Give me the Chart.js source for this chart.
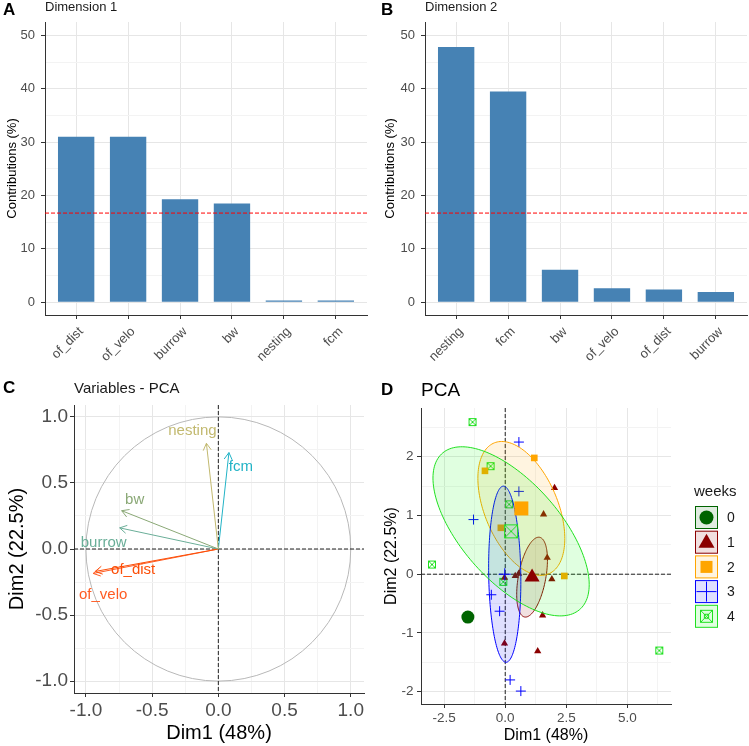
<!DOCTYPE html>
<html>
<head>
<meta charset="utf-8">
<script src="https://cdn.jsdelivr.net/npm/chart.js"></script>
<style>
  body { margin: 0; background: #fff; overflow: hidden; }
  #wrap { position: relative; width: 749px; height: 746px; font-family: "Liberation Sans", Arial, sans-serif; }
  canvas { position: absolute; }
  .tag { position: absolute; font-weight: bold; font-size: 17px; line-height: 20px; color: #000; }
  .ttl { position: absolute; color: #1a1a1a; white-space: nowrap; }
</style>
</head>
<body>
<div id="wrap">
  <canvas id="chartA" width="375" height="370" style="left:0;top:0"></canvas>
  <canvas id="chartB" width="374" height="370" style="left:375px;top:0"></canvas>
  <canvas id="chartC" width="375" height="376" style="left:0;top:370px"></canvas>
  <canvas id="chartD" width="374" height="376" style="left:375px;top:370px"></canvas>

  <div class="tag" style="left:3px;top:0">A</div>
  <div class="ttl" style="left:45px;top:-1px;font-size:13px;line-height:16px">Dimension 1</div>
  <div class="tag" style="left:381px;top:0">B</div>
  <div class="ttl" style="left:425px;top:-1px;font-size:13px;line-height:16px">Dimension 2</div>
  <div class="tag" style="left:3px;top:378px">C</div>
  <div class="ttl" style="left:74px;top:379px;font-size:15px;line-height:18px">Variables - PCA</div>
  <div class="tag" style="left:381px;top:380px">D</div>
  <div class="ttl" style="left:421px;top:379px;font-size:19px;line-height:22px;color:#000">PCA</div>
</div>
<script>
// ---- data ----
const dim1Vars = ['of_dist', 'of_velo', 'burrow', 'bw', 'nesting', 'fcm'];
const dim1Contrib = [31.0, 31.0, 19.3, 18.5, 0.3, 0.3];
const dim2Vars = ['nesting', 'fcm', 'bw', 'of_velo', 'of_dist', 'burrow'];
const dim2Contrib = [47.8, 39.5, 6.1, 2.6, 2.4, 1.9];
const contribRef = 16.7;            // expected average contribution (100 / 6)
const contribTicks = [0, 10, 20, 30, 40, 50];

const varNames = ['nesting', 'fcm', 'bw', 'burrow', 'of_dist', 'of_velo'];
const varDim1 = [-0.09, 0.08, -0.73, -0.745, -0.93, -0.945];
const varDim2 = [0.80, 0.73, 0.29, 0.16, -0.17, -0.185];
const varTicks = [-1, -0.5, 0, 0.5, 1];

const weeks = ['0', '1', '2', '3', '4'];
const week0X = [-1.53];
const week0Y = [-0.73];
const week1X = [2.02, 1.57, 1.72, 1.91, 1.53, 1.33, -0.03, -0.03, 0.41, 0.55];
const week1Y = [1.47, 1.02, 0.28, -0.085, -0.70, -1.31, -1.18, -0.06, -0.03, 0.01];
const week2X = [1.19, -0.83, -0.18, 2.42];
const week2Y = [1.98, 1.76, 0.79, -0.03];
const week3X = [0.56, 0.56, -1.30, -0.57, -0.23, 0.20, 0.64];
const week3Y = [2.25, 1.41, 0.93, -0.35, -0.63, -1.80, -1.99];
const week4X = [-1.34, -0.60, 0.16, -3.00, -0.08, 6.31];
const week4Y = [2.59, 1.84, 1.19, 0.165, -0.13, -1.30];
const meanX = [-1.53, 1.10, 0.66, -0.02, 0.24];
const meanY = [-0.73, -0.05, 1.12, 0.00, 0.73];
// concentration ellipses: half extent along x / y and correlation
const ellWeeks = [1, 2, 3, 4];
const ellHalfX = [0.63, 1.78, 0.66, 3.20];
const ellHalfY = [0.68, 1.14, 1.50, 1.44];
const ellCorr = [0.43, -0.45, -0.08, -0.63];
const indXTicks = [-2.5, 0, 2.5, 5];
const indYTicks = [-2, -1, 0, 1, 2];

// ---- styling ----
const FONT = '"Liberation Sans", Arial, sans-serif';
const GRID_MAJOR = '#e6e6e6', GRID_MINOR = '#f3f3f3';
const AXIS = '#333333', TICK_TXT = '#4d4d4d';
const BAR = '#4682B4';
const varColors = ['#c2b96f', '#22b3c6', '#8aa876', '#6aae98', '#fc4e07', '#ff5b22'];
const labelNudge = { nesting: [-14, -12], fcm: [12, 14], bw: [13, -11], burrow: [-16, 15], of_dist: [38, -2], of_velo: [10, 21] };
const weekColors = ['#006400', '#8B0000', '#FFA500', '#0000FF', '#1fe01f'];
const weekFills = ['rgba(0,100,0,0.12)', 'rgba(139,0,0,0.12)', 'rgba(255,165,0,0.12)', 'rgba(0,0,255,0.12)', 'rgba(0,255,0,0.12)'];

Chart.defaults.font.family = FONT;
Chart.defaults.animation = false;
Chart.defaults.responsive = false;
Chart.defaults.plugins.legend.display = false;
Chart.defaults.plugins.tooltip.enabled = false;

// major ticks plus the half-way minor ones inside the range
function withMinor(major, min, max) {
  const step = major[1] - major[0];
  const out = [];
  for (let v = major[0] - step; v <= major[major.length - 1] + step + 1e-9; v += step / 2) {
    if (v >= min - 1e-9 && v <= max + 1e-9) out.push(Math.round(v * 1000) / 1000);
  }
  return out;
}

function zeroPad(s) {
  s.paddingLeft = 0; s.paddingRight = 0; s.paddingTop = 0; s.paddingBottom = 0;
}

function gridAxis(o) {
  const all = withMinor(o.major, o.min, o.max);
  const isMajor = v => o.major.some(m => Math.abs(m - v) < 1e-9);
  return {
    type: 'linear', min: o.min, max: o.max, offset: false,
    afterBuildTicks: s => { s.ticks = all.map(v => ({ value: v })); },
    afterFit: s => { s[o.fit] = o.size; zeroPad(s); },
    ticks: {
      autoSkip: false, minRotation: 0, maxRotation: 0, padding: o.pad, color: TICK_TXT,
      font: { size: o.fontSize },
      callback: v => isMajor(v) ? o.fmt(v) : ''
    },
    grid: {
      offset: false, lineWidth: 1, tickLength: 4,
      color: c => (c.tick && isMajor(c.tick.value)) ? GRID_MAJOR : GRID_MINOR,
      tickColor: c => (c.tick && isMajor(c.tick.value)) ? AXIS : 'rgba(0,0,0,0)'
    },
    border: { display: true, color: AXIS, width: 1 },
    title: o.title
      ? { display: true, text: o.title, color: '#000', font: { size: o.titleSize }, padding: o.titlePad }
      : { display: false }
  };
}

function clipArea(chart) {
  const a = chart.chartArea;
  chart.ctx.beginPath();
  chart.ctx.rect(a.left, a.top, a.right - a.left, a.bottom - a.top);
  chart.ctx.clip();
}

// dashed red reference line on the contribution bars
const refLinePlugin = {
  id: 'refLine',
  afterDatasetsDraw(chart) {
    const ctx = chart.ctx, a = chart.chartArea;
    const y = chart.scales.y.getPixelForValue(contribRef);
    ctx.save();
    ctx.strokeStyle = '#ff0000';
    ctx.lineWidth = 1;
    ctx.setLineDash([4, 2]);
    ctx.beginPath();
    ctx.moveTo(a.left, y);
    ctx.lineTo(a.right, y);
    ctx.stroke();
    ctx.restore();
  }
};

function contribChart(id, cats, vals, padLeft, yWidth, padRight) {
  const yAxis = gridAxis({ min: -2.4, max: 52.5, major: contribTicks, fit: 'width', size: yWidth, pad: 6, fontSize: 13,
    fmt: v => String(v), title: 'Contributions (%)', titleSize: 13, titlePad: { top: 5, bottom: 0 } });
  return new Chart(document.getElementById(id), {
    type: 'bar',
    data: {
      datasets: [{
        data: cats.map((c, i) => ({ x: i, y: vals[i] })),
        backgroundColor: BAR,
        barPercentage: 0.7,
        categoryPercentage: 1
      }]
    },
    options: {
      layout: { padding: { left: padLeft, right: padRight, top: 22, bottom: 0 } },
      scales: {
        x: {
          type: 'linear', offset: false, min: -0.6, max: cats.length - 0.4,
          afterBuildTicks: s => { s.ticks = cats.map((c, i) => ({ value: i })); },
          afterFit: s => { s.height = 55; zeroPad(s); },
          ticks: {
            autoSkip: false, minRotation: 45, maxRotation: 45, padding: 5, labelOffset: 5, color: TICK_TXT,
            font: { size: 13 }, callback: v => cats[v]
          },
          grid: { offset: false, color: GRID_MAJOR, tickColor: AXIS, tickLength: 4, lineWidth: 1 },
          border: { display: true, color: AXIS, width: 1 }
        },
        y: yAxis
      }
    },
    plugins: [refLinePlugin]
  });
}

contribChart('chartA', dim1Vars, dim1Contrib, 0, 45, 8);
contribChart('chartB', dim2Vars, dim2Contrib, 3, 47, 2);

// ---- C: variables correlation circle ----
const circlePlugin = {
  id: 'corCircle',
  beforeDatasetsDraw(chart) {
    const ctx = chart.ctx, xs = chart.scales.x, ys = chart.scales.y, a = chart.chartArea;
    const cx = xs.getPixelForValue(0), cy = ys.getPixelForValue(0);
    ctx.save();
    clipArea(chart);
    ctx.strokeStyle = '#b8b8b8';
    ctx.lineWidth = 1;
    ctx.beginPath();
    ctx.ellipse(cx, cy, xs.getPixelForValue(1) - cx, cy - ys.getPixelForValue(1), 0, 0, Math.PI * 2);
    ctx.stroke();
    ctx.strokeStyle = '#222';
    ctx.setLineDash([4, 2]);
    ctx.beginPath();
    ctx.moveTo(a.left, cy); ctx.lineTo(a.right, cy);
    ctx.moveTo(cx, a.top); ctx.lineTo(cx, a.bottom);
    ctx.stroke();
    ctx.restore();
  }
};

const arrowPlugin = {
  id: 'arrows',
  afterDatasetsDraw(chart) {
    const ctx = chart.ctx;
    ctx.save();
    chart.data.datasets.forEach((ds, i) => {
      const pts = chart.getDatasetMeta(i).data;
      const a = pts[0], b = pts[1];
      const ang = Math.atan2(b.y - a.y, b.x - a.x);
      const len = 8, spread = Math.PI / 6;
      ctx.strokeStyle = varColors[i];
      ctx.lineWidth = 1;
      ctx.beginPath();
      ctx.moveTo(b.x - len * Math.cos(ang - spread), b.y - len * Math.sin(ang - spread));
      ctx.lineTo(b.x, b.y);
      ctx.lineTo(b.x - len * Math.cos(ang + spread), b.y - len * Math.sin(ang + spread));
      ctx.stroke();
      const off = labelNudge[ds.label];
      ctx.fillStyle = varColors[i];
      ctx.font = '15px ' + FONT;
      ctx.textAlign = 'center';
      ctx.textBaseline = 'middle';
      ctx.fillText(ds.label, b.x + off[0], b.y + off[1]);
    });
    ctx.restore();
  }
};

new Chart(document.getElementById('chartC'), {
  type: 'scatter',
  data: {
    datasets: varNames.map((n, i) => ({
      label: n,
      data: [{ x: 0, y: 0 }, { x: varDim1[i], y: varDim2[i] }],
      showLine: true,
      borderColor: varColors[i],
      borderWidth: 1,
      pointRadius: 0
    }))
  },
  options: {
    layout: { padding: { left: 0, right: 11, top: 35, bottom: 0 } },
    scales: {
      x: gridAxis({ min: -1.09, max: 1.10, major: varTicks, fit: 'height', size: 53, pad: 2, fontSize: 19,
        fmt: v => v.toFixed(1), title: 'Dim1 (48%)', titleSize: 20, titlePad: { top: 0, bottom: 1 } }),
      y: gridAxis({ min: -1.09, max: 1.09, major: varTicks, fit: 'width', size: 74, pad: 2, fontSize: 19,
        fmt: v => v.toFixed(1), title: 'Dim2 (22.5%)', titleSize: 20, titlePad: { top: 5, bottom: 0 } })
    }
  },
  plugins: [circlePlugin, arrowPlugin]
});

// ---- D: individuals by week ----
function makeBoxX(size, color, inner) {
  const c = document.createElement('canvas');
  c.width = size + 2; c.height = size + 2;
  const g = c.getContext('2d');
  g.strokeStyle = color;
  g.lineWidth = 1;
  g.strokeRect(1.5, 1.5, size - 1, size - 1);
  if (inner) {
    const q = size * 0.3;
    g.strokeRect(1.5 + q, 1.5 + q, size - 1 - 2 * q, size - 1 - 2 * q);
  }
  g.beginPath();
  g.moveTo(1.5, 1.5); g.lineTo(size + 0.5, size + 0.5);
  g.moveTo(size + 0.5, 1.5); g.lineTo(1.5, size + 0.5);
  g.stroke();
  return c;
}
const boxSmall = makeBoxX(8, weekColors[4], false);
const boxBig = makeBoxX(14, weekColors[4], false);
const boxKey = makeBoxX(13, weekColors[4], true);

const groupX = [week0X, week1X, week2X, week3X, week4X];
const groupY = [week0Y, week1Y, week2Y, week3Y, week4Y];
const shapes = ['circle', 'triangle', 'rect', 'cross', boxSmall];
const meanShapes = ['circle', 'triangle', 'rect', 'cross', boxBig];
const smallR = [3.5, 4.2, 4.7, 5, 4];
const meanR = [6.5, 8.7, 9.9, 6, 7];

const pointSets = weeks.map((w, g) => ({
  label: 'week ' + w,
  data: groupX[g].map((x, i) => ({ x: x, y: groupY[g][i] })),
  pointStyle: shapes[g],
  pointRadius: smallR[g],
  pointBackgroundColor: weekColors[g],
  pointBorderColor: weekColors[g],
  pointBorderWidth: g === 3 ? 1 : 0,
  order: 1
}));
const meanSets = weeks.map((w, g) => ({
  label: 'mean ' + w,
  isMean: true,
  data: [{ x: meanX[g], y: meanY[g] }],
  pointStyle: meanShapes[g],
  pointRadius: meanR[g],
  pointBackgroundColor: weekColors[g],
  pointBorderColor: weekColors[g],
  pointBorderWidth: g === 3 ? 1 : 0,
  order: 0
}));

function drawEllipses(chart) {
  const ctx = chart.ctx, xs = chart.scales.x, ys = chart.scales.y;
  ctx.save();
  clipArea(chart);
  ellWeeks.forEach((wk, k) => {
    const s = Math.sqrt(1 - ellCorr[k] * ellCorr[k]);
    ctx.beginPath();
    for (let j = 0; j <= 160; j++) {
      const t = j / 160 * Math.PI * 2;
      const dx = meanX[wk] + ellHalfX[k] * Math.cos(t);
      const dy = meanY[wk] + ellHalfY[k] * (ellCorr[k] * Math.cos(t) + s * Math.sin(t));
      const px = xs.getPixelForValue(dx), py = ys.getPixelForValue(dy);
      if (j === 0) ctx.moveTo(px, py); else ctx.lineTo(px, py);
    }
    ctx.closePath();
    ctx.fillStyle = weekFills[wk];
    ctx.fill();
    ctx.strokeStyle = weekColors[wk];
    ctx.lineWidth = 1;
    ctx.stroke();
  });
  ctx.restore();
}

const indPlugin = {
  id: 'indExtras',
  beforeDatasetsDraw(chart) {
    chart.$ellDone = false;
    const ctx = chart.ctx, a = chart.chartArea;
    const cx = chart.scales.x.getPixelForValue(0), cy = chart.scales.y.getPixelForValue(0);
    ctx.save();
    ctx.strokeStyle = '#222';
    ctx.lineWidth = 1;
    ctx.setLineDash([4, 2]);
    ctx.beginPath();
    ctx.moveTo(a.left, cy); ctx.lineTo(a.right, cy);
    ctx.moveTo(cx, a.top); ctx.lineTo(cx, a.bottom);
    ctx.stroke();
    ctx.restore();
  },
  beforeDatasetDraw(chart, args) {
    if (!chart.$ellDone && chart.data.datasets[args.index].isMean) {
      drawEllipses(chart);
      chart.$ellDone = true;
    }
  },
  afterDraw(chart) {
    const ctx = chart.ctx;
    ctx.save();
    ctx.textBaseline = 'middle';
    ctx.textAlign = 'left';
    ctx.fillStyle = '#1a1a1a';
    ctx.font = '15px ' + FONT;
    ctx.fillText('weeks', 319, 122);
    weeks.forEach((w, g) => {
      const left = 320, top = 136 + g * 24.7, size = 23;
      const cx = left + size / 2, cy = top + size / 2;
      ctx.fillStyle = weekFills[g];
      ctx.fillRect(left, top, size, size);
      ctx.strokeStyle = weekColors[g];
      ctx.lineWidth = 1;
      ctx.strokeRect(left + 0.5, top + 0.5, size - 1, size - 1);
      ctx.fillStyle = weekColors[g];
      ctx.beginPath();
      if (g === 0) {
        ctx.arc(cx, cy, 7, 0, Math.PI * 2);
        ctx.fill();
      } else if (g === 1) {
        ctx.moveTo(cx, cy - 8.5);
        ctx.lineTo(cx + 8, cy + 5.5);
        ctx.lineTo(cx - 8, cy + 5.5);
        ctx.closePath();
        ctx.fill();
      } else if (g === 2) {
        ctx.fillRect(cx - 6, cy - 6, 12, 12);
      } else if (g === 3) {
        ctx.moveTo(cx - 10, cy); ctx.lineTo(cx + 10, cy);
        ctx.moveTo(cx, cy - 10); ctx.lineTo(cx, cy + 10);
        ctx.stroke();
      } else {
        ctx.drawImage(boxKey, cx - boxKey.width / 2, cy - boxKey.height / 2);
      }
      ctx.fillStyle = '#1a1a1a';
      ctx.font = '14px ' + FONT;
      ctx.fillText(w, 352, cy + 1);
    });
    ctx.restore();
  }
};

new Chart(document.getElementById('chartD'), {
  type: 'scatter',
  data: { datasets: pointSets.concat(meanSets) },
  options: {
    layout: { padding: { left: 0, right: 78, top: 38, bottom: 0 } },
    scales: {
      x: gridAxis({ min: -3.45, max: 6.79, major: indXTicks, fit: 'height', size: 42, pad: 2, fontSize: 13.5,
        fmt: v => v.toFixed(1), title: 'Dim1 (48%)', titleSize: 16, titlePad: { top: 0, bottom: 1 } }),
      y: gridAxis({ min: -2.21, max: 2.83, major: indYTicks, fit: 'width', size: 46, pad: 3.5, fontSize: 13.5,
        fmt: v => String(v), title: 'Dim2 (22.5%)', titleSize: 16, titlePad: { top: 7, bottom: 0 } })
    }
  },
  plugins: [indPlugin]
});
</script>
</body>
</html>
